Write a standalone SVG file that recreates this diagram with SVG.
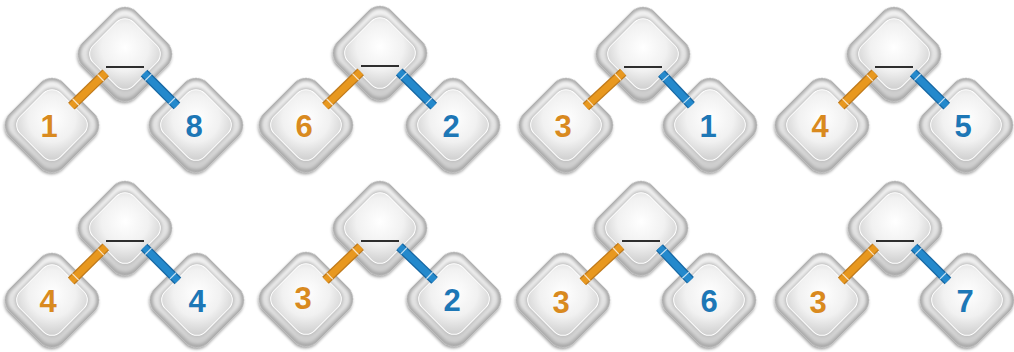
<svg xmlns="http://www.w3.org/2000/svg" xmlns:xlink="http://www.w3.org/1999/xlink" width="1014" height="352" viewBox="0 0 1014 352">
<style>
.num{font-family:"Liberation Sans",Arial,sans-serif;font-weight:bold;font-size:31px;text-anchor:middle}
.o{fill:#d98a1f}
.b{fill:#1d77b6}
.minus{stroke:#2e2e2e;stroke-width:2}
.eo1{stroke:#c07a1b;stroke-width:9.5}
.eo2{stroke:#e8981f;stroke-width:7}
.eb1{stroke:#1767a3;stroke-width:9.5}
.eb2{stroke:#2489cc;stroke-width:7}
.seam{stroke:#ffffff;stroke-opacity:0.75;stroke-width:1.2}
</style>
<defs>
<filter id="shadow" x="-30%" y="-30%" width="160%" height="160%">
<feGaussianBlur in="SourceAlpha" stdDeviation="1.6"/>
<feOffset dx="0.5" dy="1.5" result="b"/>
<feComponentTransfer><feFuncA type="linear" slope="0.4"/></feComponentTransfer>
<feMerge><feMergeNode/><feMergeNode in="SourceGraphic"/></feMerge>
</filter>
<filter id="soft" x="-20%" y="-20%" width="140%" height="140%">
<feGaussianBlur stdDeviation="1.6"/>
</filter>
<linearGradient id="ring" x1="0" y1="0" x2="1" y2="1">
<stop offset="0" stop-color="#f4f4f4"/>
<stop offset="0.6" stop-color="#e0e0e0"/>
<stop offset="1" stop-color="#c9c9c9"/>
</linearGradient>
<radialGradient id="face" cx="0.42" cy="0.42" r="0.75">
<stop offset="0" stop-color="#ffffff"/>
<stop offset="0.55" stop-color="#f1f1f1"/>
<stop offset="1" stop-color="#cdcdcd"/>
</radialGradient>
<g id="dia">
<rect x="-38" y="-38" width="76" height="76" rx="16" transform="rotate(45)" fill="#a9a9a9" filter="url(#shadow)"/>
<rect x="-35.5" y="-35.5" width="71" height="71" rx="14.5" transform="rotate(45)" fill="url(#ring)" filter="url(#soft)"/>
<rect x="-30" y="-30" width="60" height="60" rx="12.5" transform="rotate(45)" fill="#bdbdbd" filter="url(#soft)"/>
<rect x="-28.5" y="-28.5" width="57" height="57" rx="12" transform="rotate(45)" fill="url(#face)" stroke="#ffffff" stroke-width="1"/>
</g>
</defs>
<rect width="1014" height="352" fill="#ffffff"/>

<!-- Row 1 -->
<g id="r1g1-top" transform="translate(125,54)"><use href="#dia"/><line class="minus" x1="-19" y1="13" x2="19" y2="13"/></g>
<g id="r1g1-left" transform="translate(52,125)"><use href="#dia"/><text class="num o" x="-3" y="12">1</text></g>
<g id="r1g1-right" transform="translate(196,125)"><use href="#dia"/><text class="num b" x="-2" y="12">8</text></g>

<g id="r1g2-top" transform="translate(380,53)"><use href="#dia"/><line class="minus" x1="-19" y1="13" x2="19" y2="13"/></g>
<g id="r1g2-left" transform="translate(306,125)"><use href="#dia"/><text class="num o" x="-2" y="12">6</text></g>
<g id="r1g2-right" transform="translate(453,125)"><use href="#dia"/><text class="num b" x="-2" y="12">2</text></g>

<g id="r1g3-top" transform="translate(643,54)"><use href="#dia"/><line class="minus" x1="-19" y1="13" x2="19" y2="13"/></g>
<g id="r1g3-left" transform="translate(566,125)"><use href="#dia"/><text class="num o" x="-3" y="12">3</text></g>
<g id="r1g3-right" transform="translate(710,125)"><use href="#dia"/><text class="num b" x="-2" y="12">1</text></g>

<g id="r1g4-top" transform="translate(894,54)"><use href="#dia"/><line class="minus" x1="-19" y1="13" x2="19" y2="13"/></g>
<g id="r1g4-left" transform="translate(822,125)"><use href="#dia"/><text class="num o" x="-2" y="12">4</text></g>
<g id="r1g4-right" transform="translate(966,125)"><use href="#dia"/><text class="num b" x="-3" y="12">5</text></g>

<!-- Row 2 -->
<g id="r2g1-top" transform="translate(125,228)"><use href="#dia"/><line class="minus" x1="-19" y1="13" x2="19" y2="13"/></g>
<g id="r2g1-left" transform="translate(52,300)"><use href="#dia"/><text class="num o" x="-4" y="12">4</text></g>
<g id="r2g1-right" transform="translate(197,300)"><use href="#dia"/><text class="num b" x="0" y="12">4</text></g>

<g id="r2g2-top" transform="translate(380,228)"><use href="#dia"/><line class="minus" x1="-19" y1="13" x2="19" y2="13"/></g>
<g id="r2g2-left" transform="translate(306,299)"><use href="#dia"/><text class="num o" x="-3" y="10">3</text></g>
<g id="r2g2-right" transform="translate(454,299)"><use href="#dia"/><text class="num b" x="-2" y="12">2</text></g>

<g id="r2g3-top" transform="translate(641,228)"><use href="#dia"/><line class="minus" x1="-19" y1="13" x2="19" y2="13"/></g>
<g id="r2g3-left" transform="translate(563,300)"><use href="#dia"/><text class="num o" x="-2" y="13">3</text></g>
<g id="r2g3-right" transform="translate(709,300)"><use href="#dia"/><text class="num b" x="0" y="12">6</text></g>

<g id="r2g4-top" transform="translate(895,228)"><use href="#dia"/><line class="minus" x1="-19" y1="13" x2="19" y2="13"/></g>
<g id="r2g4-left" transform="translate(822,300)"><use href="#dia"/><text class="num o" x="-4" y="13">3</text></g>
<g id="r2g4-right" transform="translate(967,300)"><use href="#dia"/><text class="num b" x="-2" y="12">7</text></g>

<g id="connectors">
<g transform="translate(71.4,106.2) rotate(-44.2)"><line class="eo1" x1="0" y1="0" x2="47.8" y2="0"/><line class="eo2" x1="0" y1="0" x2="47.8" y2="0"/><line class="seam" x1="6" y1="-4.5" x2="6" y2="4.5"/><line class="seam" x1="40.8" y1="-4.5" x2="40.8" y2="4.5"/></g>
<g transform="translate(144.1,73.1) rotate(45)"><line class="eb1" x1="0" y1="0" x2="46.4" y2="0"/><line class="eb2" x1="0" y1="0" x2="46.4" y2="0"/><line class="seam" x1="6" y1="-4.5" x2="6" y2="4.5"/><line class="seam" x1="39.4" y1="-4.5" x2="39.4" y2="4.5"/></g>

<g transform="translate(325.4,106.2) rotate(-44.2)"><line class="eo1" x1="0" y1="0" x2="49.2" y2="0"/><line class="eo2" x1="0" y1="0" x2="49.2" y2="0"/><line class="seam" x1="6" y1="-4.5" x2="6" y2="4.5"/><line class="seam" x1="42.2" y1="-4.5" x2="42.2" y2="4.5"/></g>
<g transform="translate(399.2,72) rotate(44.6)"><line class="eb1" x1="0" y1="0" x2="48.5" y2="0"/><line class="eb2" x1="0" y1="0" x2="48.5" y2="0"/><line class="seam" x1="6" y1="-4.5" x2="6" y2="4.5"/><line class="seam" x1="41.5" y1="-4.5" x2="41.5" y2="4.5"/></g>

<g transform="translate(585.9,106.7) rotate(-42.7)"><line class="eo1" x1="0" y1="0" x2="50.7" y2="0"/><line class="eo2" x1="0" y1="0" x2="50.7" y2="0"/><line class="seam" x1="6" y1="-4.5" x2="6" y2="4.5"/><line class="seam" x1="43.7" y1="-4.5" x2="43.7" y2="4.5"/></g>
<g transform="translate(661.5,73.6) rotate(46.7)"><line class="eb1" x1="0" y1="0" x2="43.6" y2="0"/><line class="eb2" x1="0" y1="0" x2="43.6" y2="0"/><line class="seam" x1="6" y1="-4.5" x2="6" y2="4.5"/><line class="seam" x1="36.6" y1="-4.5" x2="36.6" y2="4.5"/></g>

<g transform="translate(841.2,106) rotate(-44.6)"><line class="eo1" x1="0" y1="0" x2="47.1" y2="0"/><line class="eo2" x1="0" y1="0" x2="47.1" y2="0"/><line class="seam" x1="6" y1="-4.5" x2="6" y2="4.5"/><line class="seam" x1="40.1" y1="-4.5" x2="40.1" y2="4.5"/></g>
<g transform="translate(913.2,73) rotate(44.6)"><line class="eb1" x1="0" y1="0" x2="47.1" y2="0"/><line class="eb2" x1="0" y1="0" x2="47.1" y2="0"/><line class="seam" x1="6" y1="-4.5" x2="6" y2="4.5"/><line class="seam" x1="40.1" y1="-4.5" x2="40.1" y2="4.5"/></g>

<g transform="translate(71.2,281) rotate(-44.6)"><line class="eo1" x1="0" y1="0" x2="48.5" y2="0"/><line class="eo2" x1="0" y1="0" x2="48.5" y2="0"/><line class="seam" x1="6" y1="-4.5" x2="6" y2="4.5"/><line class="seam" x1="41.5" y1="-4.5" x2="41.5" y2="4.5"/></g>
<g transform="translate(144.1,247.1) rotate(45)"><line class="eb1" x1="0" y1="0" x2="47.8" y2="0"/><line class="eb2" x1="0" y1="0" x2="47.8" y2="0"/><line class="seam" x1="6" y1="-4.5" x2="6" y2="4.5"/><line class="seam" x1="40.8" y1="-4.5" x2="40.8" y2="4.5"/></g>

<g transform="translate(325.5,280.3) rotate(-43.8)"><line class="eo1" x1="0" y1="0" x2="48.6" y2="0"/><line class="eo2" x1="0" y1="0" x2="48.6" y2="0"/><line class="seam" x1="6" y1="-4.5" x2="6" y2="4.5"/><line class="seam" x1="41.6" y1="-4.5" x2="41.6" y2="4.5"/></g>
<g transform="translate(399.5,246.7) rotate(43.8)"><line class="eb1" x1="0" y1="0" x2="48.6" y2="0"/><line class="eb2" x1="0" y1="0" x2="48.6" y2="0"/><line class="seam" x1="6" y1="-4.5" x2="6" y2="4.5"/><line class="seam" x1="41.6" y1="-4.5" x2="41.6" y2="4.5"/></g>

<g transform="translate(582.8,281.7) rotate(-42.7)"><line class="eo1" x1="0" y1="0" x2="52.2" y2="0"/><line class="eo2" x1="0" y1="0" x2="52.2" y2="0"/><line class="seam" x1="6" y1="-4.5" x2="6" y2="4.5"/><line class="seam" x1="45.2" y1="-4.5" x2="45.2" y2="4.5"/></g>
<g transform="translate(659.5,247.6) rotate(46.6)"><line class="eb1" x1="0" y1="0" x2="45" y2="0"/><line class="eb2" x1="0" y1="0" x2="45" y2="0"/><line class="seam" x1="6" y1="-4.5" x2="6" y2="4.5"/><line class="seam" x1="38" y1="-4.5" x2="38" y2="4.5"/></g>

<g transform="translate(841.2,281) rotate(-44.6)"><line class="eo1" x1="0" y1="0" x2="48.5" y2="0"/><line class="eo2" x1="0" y1="0" x2="48.5" y2="0"/><line class="seam" x1="6" y1="-4.5" x2="6" y2="4.5"/><line class="seam" x1="41.5" y1="-4.5" x2="41.5" y2="4.5"/></g>
<g transform="translate(914.1,247.1) rotate(45)"><line class="eb1" x1="0" y1="0" x2="47.8" y2="0"/><line class="eb2" x1="0" y1="0" x2="47.8" y2="0"/><line class="seam" x1="6" y1="-4.5" x2="6" y2="4.5"/><line class="seam" x1="40.8" y1="-4.5" x2="40.8" y2="4.5"/></g>
</g>
</svg>
